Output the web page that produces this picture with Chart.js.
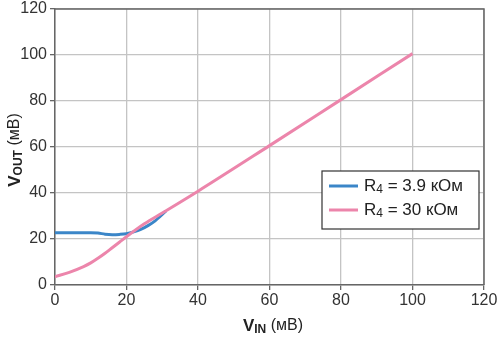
<!DOCTYPE html>
<html>
<head>
<meta charset="utf-8">
<script src="https://cdn.jsdelivr.net/npm/chart.js@4.4.3/dist/chart.umd.min.js"></script>
<style>
  html, body { margin: 0; padding: 0; background: #fff; }
  #wrap { width: 499px; height: 338px; position: relative; }
</style>
</head>
<body>
<div id="wrap"><canvas id="chart" width="499" height="338"></canvas></div>
<script>
// V_IN / V_OUT (mV)
const vinLow = [0, 5, 10, 12, 14, 16, 18, 20, 22, 24, 26, 28, 31];
const voutLow = [22.7, 22.7, 22.7, 22.6, 22.1, 21.9, 22.0, 22.3, 23.1, 24.2, 25.8, 27.9, 32.1];
const vinHigh = [0, 4, 8, 10, 12, 14, 16, 18, 20, 25, 30, 40, 60, 80, 100];
const voutHigh = [3.6, 5.5, 8.0, 9.6, 11.6, 13.8, 16.2, 18.6, 21.0, 26.6, 31.3, 40.8, 60.6, 80.6, 100.6];
const seriesNames = ['3.9 кОм', '30 кОм'];
const xTicks = [0, 20, 40, 60, 80, 100, 120];
const yTicks = [0, 20, 40, 60, 80, 100, 120];

const blue = '#3b86c8';
const pink = '#ec85ab';
const font = '"Liberation Sans", Arial, sans-serif';

function pts(xs, ys) {
  return xs.map((x, i) => ({ x: x, y: ys[i] }));
}

// draw the frame, axis titles and legend (subscripts need manual text)
const extras = {
  id: 'extras',
  afterDraw(chart) {
    const ctx = chart.ctx;
    const a = chart.chartArea;
    ctx.save();
    ctx.strokeStyle = '#666';
    ctx.lineWidth = 1.5;
    ctx.beginPath();
    ctx.moveTo(a.left, a.top);
    ctx.lineTo(a.right, a.top);
    ctx.lineTo(a.right, a.bottom);
    ctx.stroke();

    function label(x, y, sub) {
      const parts = [
        { t: 'V', f: 'bold 17px ' + font, dy: 0 },
        { t: sub, f: 'bold 12px ' + font, dy: 4 },
        { t: ' (мВ)', f: '16px ' + font, dy: 0 }
      ];
      let w = 0;
      parts.forEach(p => { ctx.font = p.f; w += ctx.measureText(p.t).width; });
      let cx = x - w / 2;
      ctx.fillStyle = '#222';
      ctx.textBaseline = 'middle';
      ctx.textAlign = 'left';
      parts.forEach(p => {
        ctx.font = p.f;
        ctx.fillText(p.t, cx, y + p.dy);
        cx += ctx.measureText(p.t).width;
      });
    }
    label(273, 326, 'IN');
    ctx.save();
    ctx.translate(15, 150);
    ctx.rotate(-Math.PI / 2);
    label(0, 0, 'OUT');
    ctx.restore();

    // legend box
    const bx = 322, by = 171, bw = 157, bh = 58;
    ctx.fillStyle = '#fff';
    ctx.fillRect(bx, by, bw, bh);
    ctx.strokeStyle = '#333';
    ctx.lineWidth = 1.2;
    ctx.strokeRect(bx, by, bw, bh);
    const colors = [blue, pink];
    seriesNames.forEach((name, i) => {
      const y = by + 15 + i * 24;
      ctx.strokeStyle = colors[i];
      ctx.lineWidth = 3;
      ctx.beginPath();
      ctx.moveTo(329, y);
      ctx.lineTo(358, y);
      ctx.stroke();
      ctx.fillStyle = '#222';
      ctx.textBaseline = 'middle';
      let x = 364;
      ctx.font = '17px ' + font;
      ctx.fillText('R', x, y);
      x += ctx.measureText('R').width;
      ctx.font = '12px ' + font;
      ctx.fillText('4', x, y + 4);
      x += ctx.measureText('4').width;
      ctx.font = '17px ' + font;
      ctx.fillText(' = ' + name, x, y);
    });
    ctx.restore();
  }
};

new Chart(document.getElementById('chart'), {
  type: 'scatter',
  data: {
    datasets: [
      {
        label: 'R4 = ' + seriesNames[0],
        data: pts(vinLow, voutLow),
        borderColor: blue,
        backgroundColor: blue,
        borderWidth: 3,
        showLine: true,
        pointRadius: 0,
        cubicInterpolationMode: 'monotone',
        order: 1
      },
      {
        label: 'R4 = ' + seriesNames[1],
        data: pts(vinHigh, voutHigh),
        borderColor: pink,
        backgroundColor: pink,
        borderWidth: 3,
        showLine: true,
        pointRadius: 0,
        cubicInterpolationMode: 'monotone',
        order: 0
      }
    ]
  },
  options: {
    responsive: false,
    animation: false,
    layout: { padding: { top: 0, right: 15, left: 0, bottom: 0 } },
    plugins: { legend: { display: false }, tooltip: { enabled: false } },
    scales: {
      x: {
        type: 'linear',
        min: 0, max: 120,
        afterBuildTicks: s => { s.ticks = xTicks.map(v => ({ value: v })); },
        afterFit: s => { s.height = 53; },
        grid: { color: '#c4c4c4', lineWidth: 1.3, tickLength: 5, tickColor: '#666' },
        border: { color: '#666', width: 1.5 },
        ticks: { color: '#333', font: { family: font, size: 16 }, padding: 1, maxRotation: 0 }
      },
      y: {
        min: 0, max: 120,
        afterBuildTicks: s => { s.ticks = yTicks.map(v => ({ value: v })); },
        afterFit: s => { s.width = 55; },
        grid: { color: '#c4c4c4', lineWidth: 1.3, tickLength: 5, tickColor: '#666' },
        border: { color: '#666', width: 1.5 },
        ticks: { color: '#333', font: { family: font, size: 16, lineHeight: 0.75 }, padding: 3 }
      }
    }
  },
  plugins: [extras]
});
</script>
</body>
</html>
